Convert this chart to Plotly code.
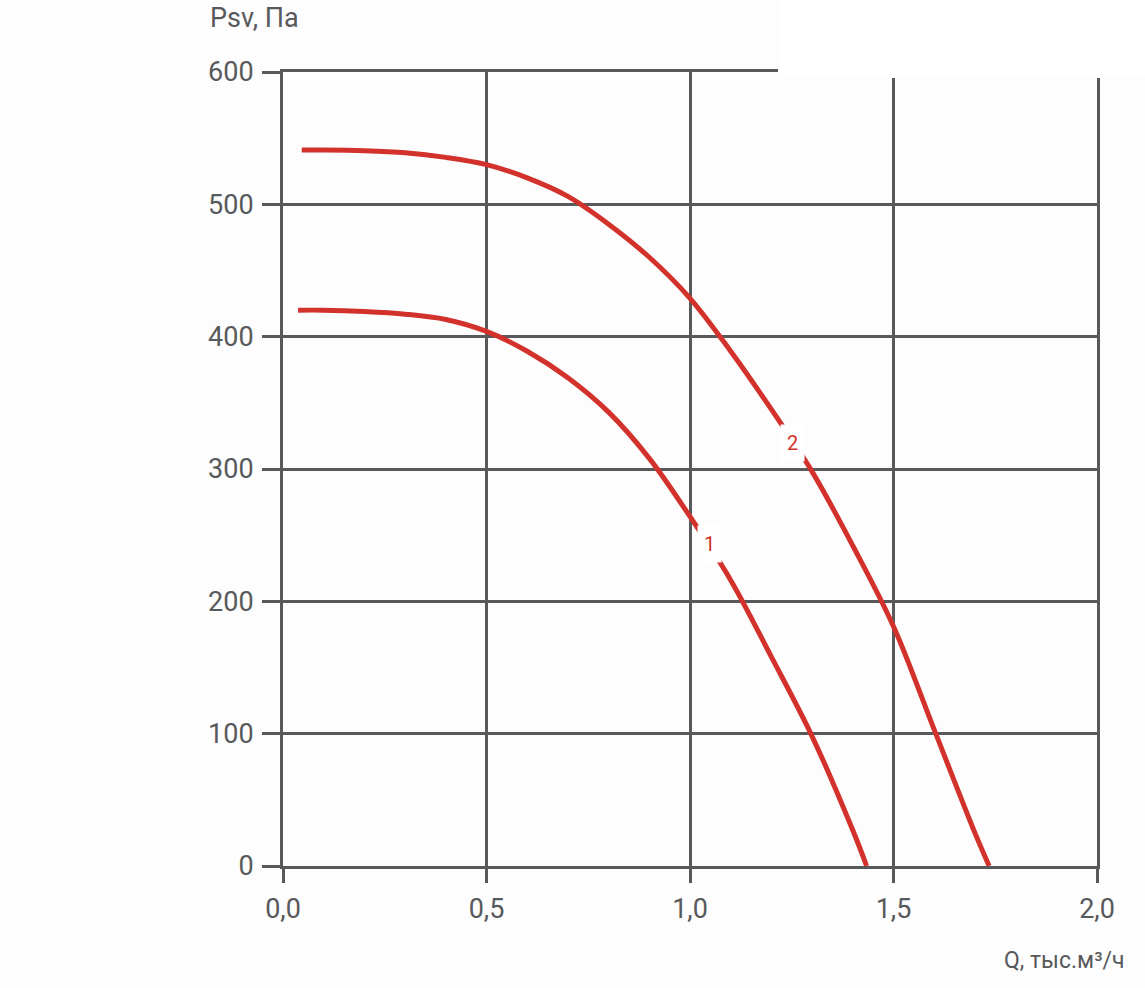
import plotly.graph_objects as go

# Curve 1
q1 = [0.037, 0.1, 0.2, 0.3, 0.4, 0.5, 0.6, 0.7, 0.8, 0.9, 1.0, 1.1, 1.2, 1.3, 1.4, 1.434]
p1 = [420, 420, 419, 417, 413, 404, 389, 369, 343, 308, 264, 216, 158, 98, 27, 0]
# Curve 2
q2 = [0.046, 0.1, 0.2, 0.3, 0.4, 0.5, 0.6, 0.7, 0.8, 0.9, 1.0, 1.1, 1.2, 1.3, 1.4, 1.5, 1.6, 1.7, 1.735]
p2 = [541, 541, 540.5, 539, 535.5, 530, 520, 506, 485, 460, 429, 389, 345, 298, 242, 181, 103, 25, 0]

curve_names = ["1", "2"]
label_pos = [(1.049, 243), (1.253, 320)]

x_ticks = [0, 0.5, 1.0, 1.5, 2.0]
x_ticktext = ["0,0", "0,5", "1,0", "1,5", "2,0"]
y_ticks = [0, 100, 200, 300, 400, 500, 600]
y_ticktext = ["0", "100", "200", "300", "400", "500", "600"]

RED = "#d2322b"
GRID = "#58595b"
FONT = "Roboto"

fig = go.Figure()
for q, p, n in [(q1, p1, curve_names[0]), (q2, p2, curve_names[1])]:
    fig.add_trace(go.Scatter(x=q, y=p, mode="lines", name=n,
                             line=dict(color=RED, width=5, shape="spline", smoothing=1.0),
                             showlegend=False))

for (lx, ly), n in zip(label_pos, curve_names):
    fig.add_annotation(x=lx, y=ly, text=n, showarrow=False, bgcolor="white",
                       font=dict(family=FONT, size=20, color=RED),
                       borderpad=6)

fig.add_annotation(xref="paper", yref="paper", x=(208 - 283) / 814, y=(866 - 18) / 794,
                   xanchor="left", yanchor="middle", showarrow=False,
                   text="Psv, Па", font=dict(family=FONT, size=27, color=GRID))
fig.add_annotation(xref="paper", yref="paper", x=(1127 - 283) / 814, y=(866 - 960) / 794,
                   xanchor="right", yanchor="middle", showarrow=False,
                   text="Q, тыс.м³/ч", font=dict(family=FONT, size=23, color=GRID))

# white box covering top-right
fig.add_shape(type="rect", xref="paper", yref="paper", layer="above",
              x0=(778 - 283) / 814, x1=(1150 - 283) / 814,
              y0=(866 - 78) / 794, y1=(866 + 10) / 794,
              fillcolor="white", line=dict(width=0))

fig.update_xaxes(range=[0, 2], tickvals=x_ticks, ticktext=x_ticktext,
                 showgrid=True, gridcolor=GRID, gridwidth=3, zeroline=False,
                 showline=True, mirror=True, linewidth=3, linecolor=GRID,
                 ticks="outside", ticklen=14, tickwidth=3, tickcolor=GRID,
                 tickfont=dict(family=FONT, size=27, color=GRID), ticklabelstandoff=3)
fig.update_yaxes(range=[0, 600], tickvals=y_ticks, ticktext=y_ticktext,
                 showgrid=True, gridcolor=GRID, gridwidth=3, zeroline=False,
                 showline=True, mirror=True, linewidth=3, linecolor=GRID,
                 ticks="outside", ticklen=18, tickwidth=3, tickcolor=GRID,
                 tickfont=dict(family=FONT, size=27, color=GRID), ticklabelstandoff=3)

fig.update_layout(width=1145, height=988, margin=dict(l=283, r=48, t=72, b=122),
                  paper_bgcolor="#fdfdfd", plot_bgcolor="#fdfdfd")

fig.write_html("out.html")
